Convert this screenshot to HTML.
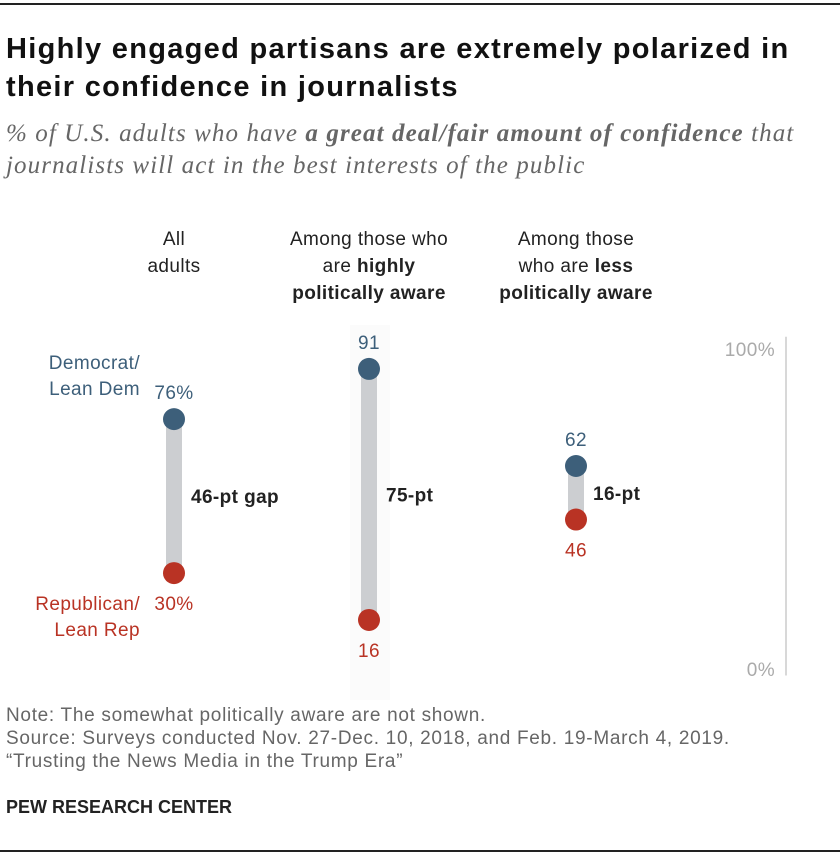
<!DOCTYPE html>
<html><head><meta charset="utf-8">
<style>
body{margin:0;background:#fff;width:840px;height:856px;overflow:hidden;position:relative;font-family:"Liberation Sans",Arial,sans-serif}
.rule{position:absolute;left:0;width:840px;height:1.5px;background:#222}
.title{position:absolute;left:6px;top:30px;font-size:29px;letter-spacing:1.3px;font-weight:bold;line-height:38px;color:#111;width:810px}
.sub{position:absolute;left:6px;top:118px;font-family:"Liberation Serif",serif;font-style:italic;font-size:25px;letter-spacing:1.1px;line-height:32px;color:#666;width:830px}
.notes{position:absolute;left:6px;top:704px;font-size:19px;letter-spacing:0.7px;line-height:23px;color:#666}
.pew{position:absolute;left:6px;top:797px;font-size:18px;font-weight:bold;color:#222}
</style></head><body>
<div class="rule" style="top:3px"></div>
<div class="title">Highly engaged partisans are extremely polarized in their confidence in journalists</div>
<div class="sub">% of U.S. adults who have <b>a great deal/fair amount of confidence</b> that journalists will act in the best interests of the public</div>
<svg id="chart" width="840" height="856" style="position:absolute;left:0;top:0"></svg>
<div class="notes">Note: The somewhat politically aware are not shown.<br>Source: Surveys conducted Nov. 27-Dec. 10, 2018, and Feb. 19-March 4, 2019.<br>“Trusting the News Media in the Trump Era”</div>
<div class="pew">PEW RESEARCH CENTER</div>
<div class="rule" style="top:850px"></div>
<script>
const groups = ["all","high","less"];
const demValues = [76, 91, 62];
const repValues = [30, 16, 46];
const demLabels = ["76%","91","62"];
const repLabels = ["30%","16","46"];
const gapLabels = ["46-pt gap","75-pt","16-pt"];
const xs = [174, 369, 576];
const y = v => 673.5 - v * 3.347;
const svg = document.getElementById('chart');
const NS = 'http://www.w3.org/2000/svg';
function mk(tag, attrs){const e=document.createElementNS(NS,tag);for(const k in attrs)e.setAttribute(k,attrs[k]);svg.appendChild(e);return e;}
function txt(x,yy,parts,attrs){
  const e=mk('text',Object.assign({x:x,y:yy,'font-family':'Liberation Sans, Arial, sans-serif','font-size':19,'letter-spacing':0.4},attrs));
  parts.forEach(([s,b])=>{const t=document.createElementNS(NS,'tspan');t.textContent=s;if(b)t.setAttribute('font-weight','bold');e.appendChild(t);});
  return e;}
const headerLines = [
  [[["All",0]],[["adults",0]]],
  [[["Among those who",0]],[["are ",0],["highly",1]],[["politically aware",1]]],
  [[["Among those",0]],[["who are ",0],["less",1]],[["politically aware",1]]]
];
let bg=mk('rect',{x:350,y:325,width:40,height:375,fill:'#fbfbfb'});


let ax=mk('line',{x1:786,x2:786,y1:y(100)-2,y2:y(0)+2,stroke:'#ccc','stroke-width':1.5});


let t1=txt(775,356,[['100%',0]],{fill:'#aaa','text-anchor':'end'});


let t0=txt(775,676,[['0%',0]],{fill:'#aaa','text-anchor':'end'});


groups.forEach((g,i)=>{
  const x=xs[i];
  headerLines[i].forEach((parts,j)=>{
    const ht=txt(x,245+j*27,parts,{fill:'#222','text-anchor':'middle'});
    
    
  });
  const bar=mk('line',{x1:x,x2:x,y1:y(demValues[i]),y2:y(repValues[i]),stroke:'#ccced1','stroke-width':16});
  
  
  const dd=mk('circle',{cx:x,cy:y(demValues[i]),r:11,fill:'#3d5f7a'});
  
  
  const rd=mk('circle',{cx:x,cy:y(repValues[i]),r:11,fill:'#b93324'});
  
  
  const dl=txt(x,y(demValues[i])-20,[[demLabels[i],0]],{fill:'#3d5f7a','text-anchor':'middle'});
  
  
  const rl=txt(x,y(repValues[i])+37,[[repLabels[i],0]],{fill:'#b93324','text-anchor':'middle'});
  
  
  const gl=txt(x+17,(y(demValues[i])+y(repValues[i]))/2+7,[[gapLabels[i],1]],{fill:'#222'});
  
  
});
[["Democrat/",369],["Lean Dem",395]].forEach(([s,yy])=>{
  const e=txt(140,yy,[[s,0]],{fill:'#3d5f7a','text-anchor':'end'});
  
  
});
[["Republican/",610],["Lean Rep",636]].forEach(([s,yy])=>{
  const e=txt(140,yy,[[s,0]],{fill:'#b93324','text-anchor':'end'});
  
  
});
</script>
</body></html>
